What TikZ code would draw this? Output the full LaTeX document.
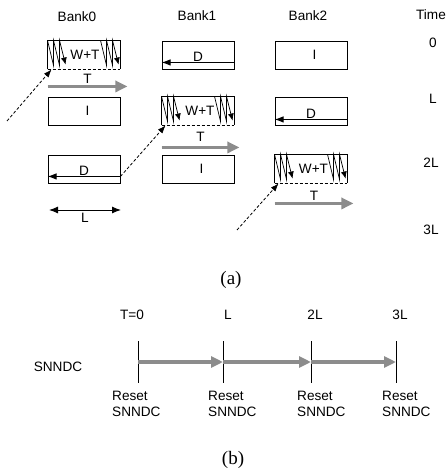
\documentclass[tikz,border=0pt]{standalone}
\usepackage{fontspec}
\setmainfont{Liberation Sans}
\newfontfamily\capfont{Liberation Serif}
\usetikzlibrary{positioning,arrows.meta}

\begin{document}
\begin{tikzpicture}[
  x=1pt, y=-1pt, font=\fontsize{13.6}{16}\selectfont,
  cell/.style={minimum width=72pt, minimum height=28pt, inner sep=0pt, line width=.9pt},
  box/.style={cell, draw},
  edge/.style={line width=.9pt},
  zig/.style={line width=.7pt, -{Latex[length=7pt,width=6pt]}},
  dline/.style={line width=.9pt, -{Latex[length=9pt,width=6.5pt]}},
  dflow/.style={line width=.8pt, dash pattern=on 3pt off 2pt, -{Latex[length=8pt,width=6pt]}},
  gflow/.style={line width=3.8pt, draw=black!45, fill=black!45, -{Triangle[length=12pt,width=11pt]}},
  both/.style={line width=1pt, {Latex[length=9pt,width=7pt]}-{Latex[length=9pt,width=7pt]}},
  lbl/.style={inner sep=.5pt},
  tickbar/.style={minimum height=41pt, minimum width=0pt, inner sep=0pt},
  reset/.style={anchor=north west, align=left, inner sep=0pt},
  captxt/.style={font=\capfont\fontsize{19}{22}\selectfont},
]
\useasboundingbox (0,0) rectangle (447,470);

% ---------------- (a) headers
\node (bank0) at (77,17)  {Bank0};
\node (bank1) at (197,16) {Bank1};
\node (bank2) at (308,16) {Bank2};
\node (time)  at (431,15) {Time};
\node (tm0)   at (433,43)  {0};
\node (tm1)   at (433,99)  {L};
\node (tm2)   at (431,163) {2L};
\node (tm3)   at (431,230) {3L};

% ---------------- (a) banks
\node[cell] (wt0) at (84,55)  {\hspace{2pt}W+T};
\node[box]  (i0)  at (84,111) {\hspace{7pt}I};
\node[box]  (d0)  at (84,169) {};
\node[box]  (d1)  at (198,55)  {};
\node[cell] (wt1) at (198,111) {\hspace{4pt}W+T};
\node[box]  (i1)  at (198,169) {\hspace{7pt}I};
\node[box]  (i2)  at (311,55)  {\hspace{7pt}I};
\node[box]  (d2)  at (311,111) {};
\node[cell] (wt2) at (311,169) {\hspace{5pt}W+T};

% W+T boxes: open at the bottom, dashed edge there
\draw[edge] (wt0.south west) |- (wt0.north east) -- (wt0.south east);
\draw[edge] (wt1.south west) |- (wt1.north east) -- (wt1.south east);
\draw[edge] (wt2.south west) |- (wt2.north east) -- (wt2.south east);
\draw[dflow, -] (wt0.south west) -- (wt0.south east);
\draw[dflow, -] (wt1.south west) -- (wt1.south east);
\draw[dflow, -] (wt2.south west) -- (wt2.south east);

% zigzags
\draw[zig] (wt0.north west) -- ++(6,25) -- ++(0,-25) -- ++(6,25) -- ++(0,-25) -- ++(6,24);
\draw[zig] ([xshift=53pt]wt0.north west) -- ++(6,25) -- ++(0,-25) -- ++(6,25) -- ++(0,-25) -- ++(6,24);
\draw[zig] (wt1.north west) -- ++(6,25) -- ++(0,-25) -- ++(6,25) -- ++(0,-25) -- ++(6,24);
\draw[zig] ([xshift=53pt]wt1.north west) -- ++(6,25) -- ++(0,-25) -- ++(6,25) -- ++(0,-25) -- ++(6,24);
\draw[zig] (wt2.north west) -- ++(6,25) -- ++(0,-25) -- ++(6,25) -- ++(0,-25) -- ++(6,24);
\draw[zig] ([xshift=53pt]wt2.north west) -- ++(6,25) -- ++(0,-25) -- ++(6,25) -- ++(0,-25) -- ++(6,24);

% D lines
\draw[dline] ([yshift=7pt]d0.south east) -- node[lbl,above]{D} ([yshift=7pt]d0.south west);
\draw[dline] ([yshift=7pt]d1.south east) -- node[lbl,above]{D} ([yshift=7pt]d1.south west);
\draw[dline] ([yshift=6pt]d2.south east) -- node[lbl,above]{D} ([yshift=6pt]d2.south west);

% T arrows
\draw[gflow] ([yshift=-17pt]wt0.south west) -- node[lbl,above=1pt,text=black]{T} ([xshift=7pt,yshift=-17pt]wt0.south east);
\draw[gflow] ([yshift=-22pt]wt1.south west) -- node[lbl,above=4pt,text=black]{T} ([xshift=5pt,yshift=-22pt]wt1.south east);
\draw[gflow] ([yshift=-20pt]wt2.south west) -- node[lbl,above=1pt,text=black]{T} ([xshift=6pt,yshift=-20pt]wt2.south east);

% dashed links
\coordinate (in0) at (7,121);
\coordinate (in2) at (237,230);
\draw[dflow] (in0) -- ([xshift=4pt]wt0.south west);
\draw[dflow] ([yshift=7pt]d0.south east) -- ([xshift=4pt]wt1.south west);
\draw[dflow] (in2) -- ([xshift=4pt]wt2.south west);

% L span
\coordinate (l0) at (49,210);
\coordinate (l1) at (121,210);
\draw[both] (l0) -- node[lbl,below=2pt]{L} (l1);

\node[captxt] (capa) at (231,280) {(a)};

% ---------------- (b) timeline
\node (ht0) at (132,315) {T=0};
\node (ht1) at (228,315) {L};
\node (ht2) at (315,315) {2L};
\node (ht3) at (400,315) {3L};
\node (sn)  at (58,367)  {SNNDC};

\node[tickbar] (t0) at (138,362) {};
\node[tickbar] (t1) at (223,362) {};
\node[tickbar] (t2) at (311,362) {};
\node[tickbar] (t3) at (396,362) {};
\draw[edge] (t0.north) -- (t0.south);
\draw[edge] (t1.north) -- (t1.south);
\draw[edge] (t2.north) -- (t2.south);
\draw[edge] (t3.north) -- (t3.south);

\draw[gflow, line width=3.2pt] (t0.center) -- (t1.center);
\draw[gflow, line width=3.2pt] (t1.center) -- (t2.center);
\draw[gflow, line width=3.2pt] (t2.center) -- (t3.center);

\node[reset] (r0) at (112,391) {Reset\\SNNDC};
\node[reset] (r1) at (208,391) {Reset\\SNNDC};
\node[reset] (r2) at (297,391) {Reset\\SNNDC};
\node[reset] (r3) at (382,391) {Reset\\SNNDC};

\node[captxt] (capb) at (233,460) {(b)};

\end{tikzpicture}
\end{document}
